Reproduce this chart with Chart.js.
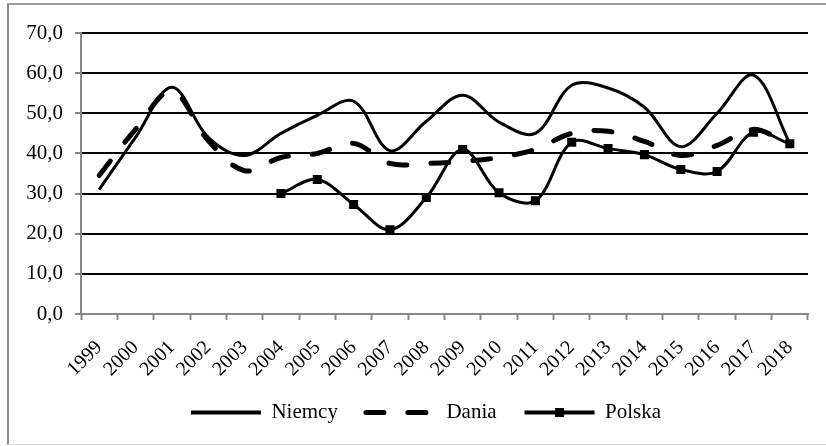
<!DOCTYPE html>
<html>
<head>
<meta charset="utf-8">
<script src="https://cdn.jsdelivr.net/npm/chart.js@4"></script>
<style>
  html, body { margin: 0; padding: 0; background: #fff; overflow: hidden; }
  #wrap { position: relative; width: 826px; height: 446px; overflow: hidden; }
  #frame {
    position: absolute; left: 7px; top: 3px; width: 840px; height: 442px;
    border-left: 2px solid #8a8a8a; border-top: 2px solid #9a9a9a; border-bottom: 1px solid #dedede;
    box-sizing: border-box;
  }
  canvas { position: absolute; left: 0; top: 0; }
</style>
</head>
<body>
<div id="wrap">
  <div id="frame"></div>
  <canvas id="chart" width="826" height="446"></canvas>
</div>
<script>
const years = ['1999', '2000', '2001', '2002', '2003', '2004', '2005', '2006', '2007', '2008',
  '2009', '2010', '2011', '2012', '2013', '2014', '2015', '2016', '2017', '2018']
const niemcy = [31, 44, 56.5, 44, 39.5, 45, 49.5, 53, 40.7, 48, 54.5, 47.8, 45, 57, 56.3, 51.5, 41.7, 50, 59.5, 42.5]
const dania = [34.5, 46, 55.5, 43.2, 35.7, 39, 40, 42.5, 37.5, 37.5, 38, 39, 41, 45, 45.5, 43, 39.5, 42, 46, 42]
const polska = [null, null, null, null, null, 30, 33.5, 27.3, 21, 29, 41, 30.2, 28.2, 42.8, 41.2, 39.7, 36, 35.5, 45.3, 42.4]
const yTicks = [0, 10, 20, 30, 40, 50, 60, 70]

const serif = '"Liberation Serif", "Times New Roman", serif'
const axisGray = '#878787'

// legenda: przesuniecie i kwadracik dla Polski
const legendFix = {
  id: 'legendFix',
  afterLayout(chart) {
    const lg = chart.legend
    lg.left += 22; lg.right += 22
    lg.top -= 13; lg.bottom -= 13
  },
  afterDraw(chart) {
    const hb = chart.legend.legendHitBoxes[2]
    if (!hb) return
    const ctx = chart.ctx
    ctx.save()
    ctx.fillStyle = '#000'
    ctx.fillRect(hb.left + 35 - 4.5, hb.top + hb.height / 2 - 4.5, 9, 9)
    ctx.restore()
  }
}

new Chart(document.getElementById('chart'), {
  type: 'line',
  data: {
    labels: years,
    datasets: [
      { label: 'Niemcy', data: niemcy, borderColor: '#000', borderWidth: 3, pointRadius: 0, tension: 0.35 },
      { label: 'Dania', data: dania, borderColor: '#000', borderWidth: 5, borderDash: [18, 24],
        borderCapStyle: 'round', pointRadius: 0, tension: 0.35 },
      { label: 'Polska', data: polska, borderColor: '#000', borderWidth: 3, pointStyle: 'rect',
        pointRadius: 6.4, pointBackgroundColor: '#000', pointBorderWidth: 0, tension: 0.35 }
    ]
  },
  options: {
    responsive: false,
    animation: false,
    layout: { padding: { left: 0, right: 18, top: 33, bottom: 0 } },
    plugins: {
      tooltip: { enabled: false },
      legend: {
        position: 'bottom',
        labels: {
          font: { family: serif, size: 21 }, color: '#000', usePointStyle: true, pointStyleWidth: 70, padding: 28,
          generateLabels(chart) {
            const items = Chart.defaults.plugins.legend.labels.generateLabels(chart)
            return items.map((it, i) => Object.assign(it, {
              pointStyle: 'line', fillStyle: 'rgba(0,0,0,0)', strokeStyle: '#000',
              lineWidth: i === 1 ? 5 : 4,
              lineDash: chart.data.datasets[i].borderDash || [],
              lineCap: i === 1 ? 'round' : 'butt'
            }))
          }
        }
      }
    },
    scales: {
      x: {
        offset: true,
        grid: { offset: true, drawOnChartArea: false, tickLength: 6, tickColor: axisGray, tickWidth: 2 },
        border: { color: axisGray, width: 2 },
        ticks: { font: { family: serif, size: 20 }, color: '#000', maxRotation: 45, minRotation: 45, autoSkip: false, padding: 16 },
        afterFit(s) { s.height = 73 }
      },
      y: {
        min: 0, max: 70,
        afterBuildTicks(s) { s.ticks = yTicks.map(v => ({ value: v })) },
        grid: {
          color: c => (c.tick && c.tick.value === 0 ? axisGray : '#000'),
          lineWidth: 2, tickLength: 6, tickColor: axisGray, tickWidth: 2
        },
        border: { color: axisGray, width: 2 },
        ticks: { font: { family: serif, size: 21 }, color: '#000', padding: 12, callback: v => v.toFixed(1).replace('.', ',') },
        afterFit(s) { s.width = 81 }
      }
    }
  },
  plugins: [legendFix]
})
</script>
</body>
</html>
